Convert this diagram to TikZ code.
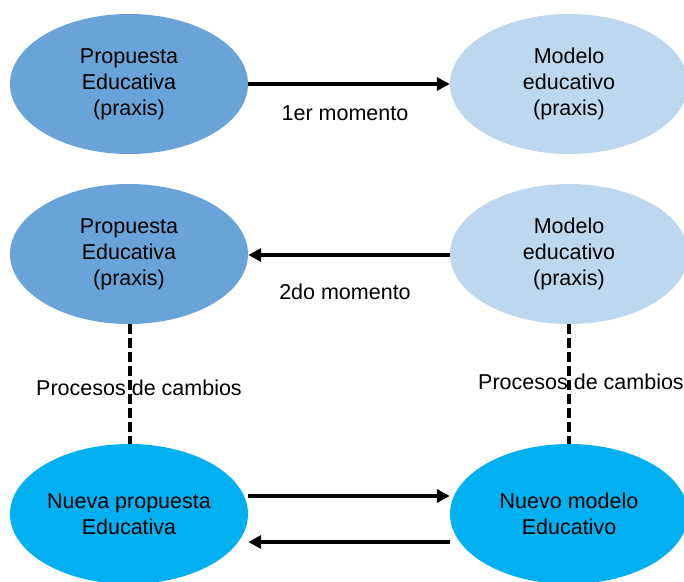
\documentclass[tikz,border=0pt]{standalone}
\usepackage{fontspec}
\setmainfont{Liberation Sans}
\usetikzlibrary{shapes.geometric,arrows.meta}

\definecolor{propblue}{HTML}{69A3D8}
\definecolor{modblue}{HTML}{BDD7EE}
\definecolor{newblue}{HTML}{00B0F0}

\tikzset{
  oval/.style={ellipse,minimum width=238pt,minimum height=140pt,inner sep=0pt,align=center,
    font=\fontsize{21.5}{26}\selectfont},
  lbl/.style={font=\fontsize{21.5}{26}\selectfont,inner sep=0pt},
  move/.style={line width=3.3pt,-{Triangle[length=13pt,width=13pt]}},
  change/.style={line width=3.3pt,dash pattern=on 10pt off 4pt}
}

\begin{document}
\begin{tikzpicture}[x=1pt,y=-1pt]

\useasboundingbox (0,0) rectangle (684,581) ;

%first row
\node [oval,fill=propblue] (prop1) at (129,84) {Propuesta\\Educativa\\(praxis)} ;
\node [oval,fill=modblue] (mod1) at (569,84) {Modelo\\educativo\\(praxis)} ;
\draw [move] (prop1.east) -- (mod1.west) ;
\node [lbl] (mom1) at (345,113) {1er momento} ;

%second row
\node [oval,fill=propblue] (prop2) at (129,254) {Propuesta\\Educativa\\(praxis)} ;
\node [oval,fill=modblue] (mod2) at (569,254) {Modelo\\educativo\\(praxis)} ;
\draw [move] ([yshift=-1pt]mod2.west) -- ([yshift=-1pt]prop2.east) ;
\node [lbl] (mom2) at (345,292) {2do momento} ;

%third row
\node [oval,fill=newblue] (nprop) at (129,514) {Nueva propuesta\\Educativa} ;
\node [oval,fill=newblue] (nmod) at (569,514) {Nuevo modelo\\Educativo} ;
\draw [move] ([yshift=18pt]nprop.east) -- ([yshift=18pt]nmod.west) ;
\draw [move] ([yshift=-28pt]nmod.west) -- ([yshift=-28pt]nprop.east) ;

%changes
\draw [change] ([xshift=1pt]prop2.south) -- ([xshift=1pt]nprop.north) ;
\draw [change] (mod2.south) -- (nmod.north) ;
\node [lbl] (chg1) at (139,388) {Procesos de cambios} ;
\node [lbl] (chg2) at (581,382) {Procesos de cambios} ;

\end{tikzpicture}
\end{document}
